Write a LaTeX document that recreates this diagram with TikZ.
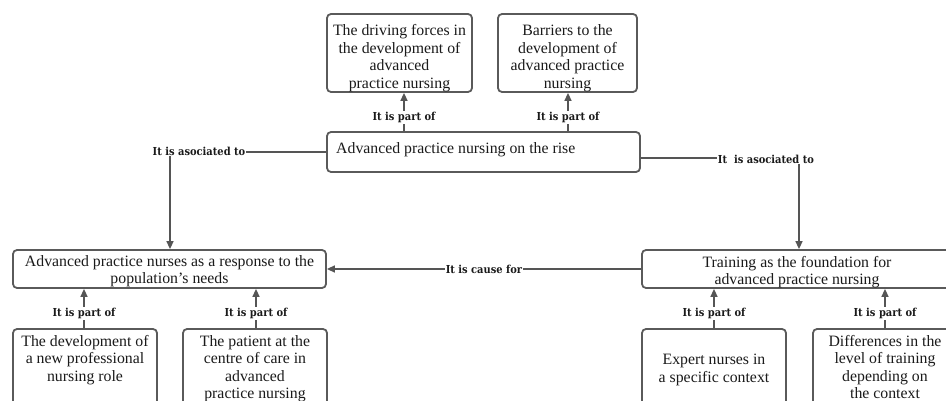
\documentclass[tikz,border=0pt]{standalone}
\usepackage{fontspec}
\setmainfont{Liberation Serif}
\newfontfamily\lblfont{DejaVu Serif Condensed}
\usetikzlibrary{arrows.meta}
\definecolor{bordc}{HTML}{5A5A5A}
\definecolor{linec}{HTML}{555555}
\definecolor{txtc}{HTML}{1A1A1A}
\tikzset{
  box/.style={draw=bordc, line width=1.8pt, rounded corners=4pt, fill=white},
  txt/.style={align=center, font=\fontsize{15.8}{17.5}\selectfont, text=txtc, inner sep=0pt},
  lbl/.style={fill=white, font=\lblfont\bfseries\fontsize{11}{12}\selectfont, text=txtc, inner sep=1pt},
  conn/.style={draw=linec, line width=1.5pt},
  arr/.style={conn, -{Triangle[length=8pt,width=7pt]}}
}
\begin{document}
\begin{tikzpicture}[x=1pt,y=-1pt]
\useasboundingbox (0,0) rectangle (946,401);
\clip (0,0) rectangle (946,401);
\fill[white] (0,0) rectangle (946,401);
% top boxes
\node[box, minimum width=145pt, minimum height=78pt] (top1) at (399.5,53) {};
\node[txt] (top1t) at (399.5,58)
  {The driving forces in\\ the development of\\ advanced\\ practice nursing};
\node[box, minimum width=139pt, minimum height=78pt] (top2) at (567.5,53) {};
\node[txt] (top2t) at (567.5,58)
  {Barriers to the\\ development of\\ advanced practice\\ nursing};
% center
\node[box, minimum width=313pt, minimum height=40pt] (center) at (483.5,152) {};
\node[txt, anchor=west] (centert) at (336,150)
  {Advanced practice nursing on the rise};
% middle row
\node[box, minimum width=313pt, minimum height=38pt] (left) at (169.5,269) {};
\node[txt] (leftt) at (169.5,271)
  {Advanced practice nurses as a response to the\\ population's needs};
\node[box, minimum width=310pt, minimum height=38pt] (right) at (797,269) {};
\node[txt] (rightt) at (797,272)
  {Training as the foundation for\\ advanced practice nursing};
% bottom boxes
\node[box, minimum width=144pt, minimum height=80pt] (b1) at (85,369) {};
\node[txt, anchor=north] (b1t) at (85,335)
  {The development of\\ a new professional\\ nursing role};
\node[box, minimum width=144pt, minimum height=80pt] (b2) at (255,369) {};
\node[txt, anchor=north] (b2t) at (255,335)
  {The patient at the\\ centre of care in\\ advanced\\ practice nursing};
\node[box, minimum width=144pt, minimum height=80pt] (b3) at (714,369) {};
\node[txt, anchor=north] (b3t) at (714,354)
  {Expert nurses in\\ a specific context};
\node[box, minimum width=144pt, minimum height=80pt] (b4) at (885,369) {};
\node[txt, anchor=north] (b4t) at (885,335)
  {Differences in the\\ level of training\\ depending on\\ the context};
% connectors top
\draw[arr] (center.north -| 404,0) -- node[lbl, pos=0.35] {It is part of} (top1.south -| 404,0);
\draw[arr] (center.north -| 568,0) -- node[lbl, pos=0.35] {It is part of} (top2.south -| 568,0);
% associated
\draw[arr] (center.west) -- (170,152) -- (left.north -| 170,0);
\node[lbl] (asoc1) at (199,151) {It is asociated to};
\draw[arr] ([yshift=-6pt]center.east) -- (799,158) -- (right.north -| 799,0);
\node[lbl] (asoc2) at (766,159) {It\ \ is asociated to};
% cause
\draw[arr] (right.west) -- node[lbl, pos=0.5] {It is cause for} (left.east);
% bottom connectors
\draw[arr] (b1.north -| 84,0) -- node[lbl, pos=0.37] {It is part of} (left.south -| 84,0);
\draw[arr] (b2.north -| 256,0) -- node[lbl, pos=0.37] {It is part of} (left.south -| 256,0);
\draw[arr] (b3.north -| 714,0) -- node[lbl, pos=0.37] {It is part of} (right.south -| 714,0);
\draw[arr] (b4.north -| 885,0) -- node[lbl, pos=0.37] {It is part of} (right.south -| 885,0);
\end{tikzpicture}
\end{document}
